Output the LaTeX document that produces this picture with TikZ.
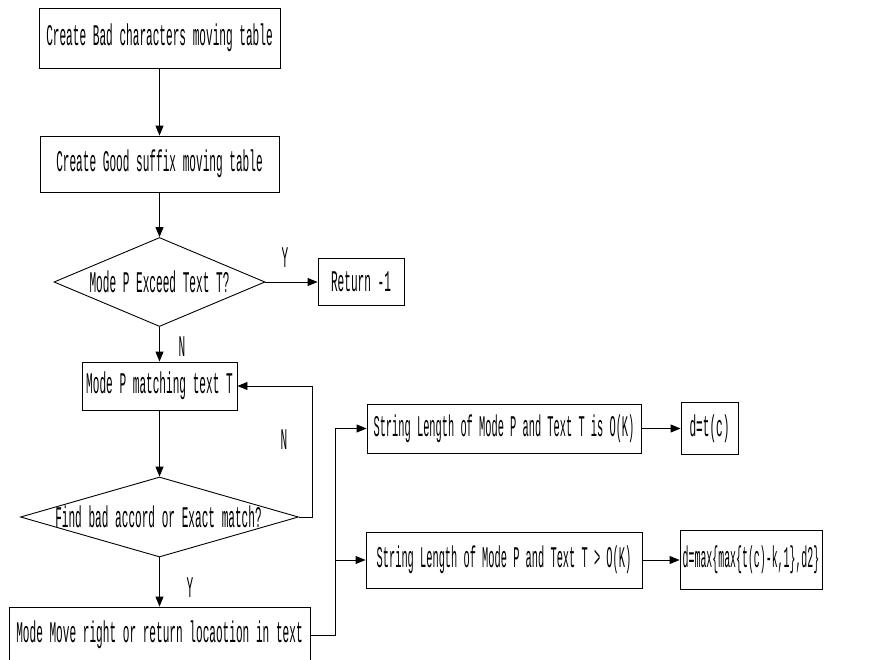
\documentclass[tikz,border=0pt]{standalone}
\usepackage{fontspec}
\setmainfont{Liberation Mono}[FakeStretch=0.37]
\newfontfamily\narrowfont{Liberation Mono}[FakeStretch=0.33]
\newfontfamily\midfont{Liberation Mono}[FakeStretch=0.345]
\usetikzlibrary{arrows.meta,shapes.geometric}
\tikzset{
  box/.style={draw, line width=0.9pt, inner sep=0pt},
  dia/.style={draw, diamond, line width=0.9pt, inner sep=0pt},
  conn/.style={line width=0.9pt},
  arr/.style={conn, -{Triangle[length=10pt,width=8pt]}},
  lab/.style={inner sep=0pt}
}
\begin{document}
\begin{tikzpicture}[x=1pt,y=-1pt,font=\fontsize{30}{32}\selectfont]
\useasboundingbox (0,0) rectangle (870,659);
% boxes
\node[box, minimum width=241pt, minimum height=60pt] (b1) at (159.5,38) {Create Bad characters moving table};
\node[box, minimum width=239pt, minimum height=56pt] (b2) at (159.5,164) {Create Good suffix moving table};
\node[dia, minimum width=211pt, minimum height=89pt] (d1) at (159.5,282) {};
\node[lab] (d1t) at (d1) {Mode P Exceed Text T?};
\node[box, minimum width=86pt, minimum height=47pt] (ret) at (361,282) {Return -1};
\node[box, minimum width=155pt, minimum height=48pt] (b3) at (159.5,386) {Mode P matching text T};
\node[dia, minimum width=278pt, minimum height=80pt] (d2) at (159.5,517) {};
\node[lab] (d2t) at (158.5,517) {Find bad accord or Exact match?};
\node[box, minimum width=301pt, minimum height=56pt] (b4) at (159.5,635) {Mode Move right or return locaotion in text};
\node[box, minimum width=274pt, minimum height=49pt] (b5) at (504,428.5) {\midfont String Length of Mode P and Text T is O(K)};
\node[box, minimum width=276pt, minimum height=56pt] (b6) at (504,560) {\midfont String Length of Mode P and Text T > O(K)};
\node[box, minimum width=57pt, minimum height=52pt] (b7) at (709.5,428.5) {d=t(c)};
\node[box, minimum width=142pt, minimum height=59pt] (b8) at (751,560) {\narrowfont d=max\{max\{t(c)-k,1\},d2\}};
% labels
\node[lab] (ly1) at (285,258) {Y};
\node[lab] (ln1) at (182,347) {N};
\node[lab] (ln2) at (284,440) {N};
\node[lab] (ly2) at (190,588) {Y};
% connectors
\draw[arr] (b1.south) -- (b2.north);
\draw[arr] (b2.south) -- (d1.north);
\draw[arr] (d1.east) -- (ret.west);
\draw[arr] (d1.south) -- (b3.north);
\draw[arr] (b3.south) -- (d2.north);
\draw[arr] (d2.east) -- (312,517) |- (b3.east);
\draw[arr] (d2.south) -- (b4.north);
\coordinate (j) at (335,635);
\draw[arr] (b4.east) -- (j) |- (b5.west);
\draw[arr] (j |- b6.west) -- (b6.west);
\draw[arr] (b5.east) -- (b7.west);
\draw[arr] (b6.east) -- (b8.west);
\end{tikzpicture}
\end{document}
